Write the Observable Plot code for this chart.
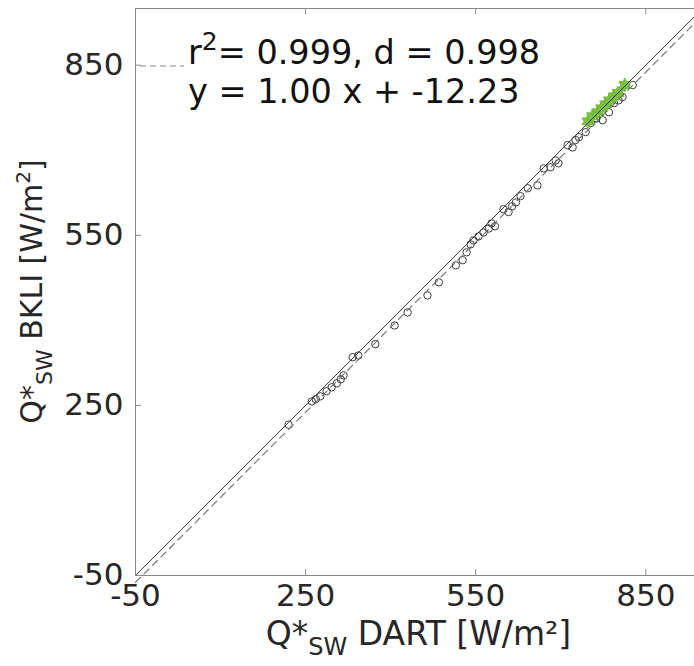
<!DOCTYPE html>
<html><head><meta charset="utf-8">
<script src="https://cdn.jsdelivr.net/npm/d3@7"></script>
<script src="https://cdn.jsdelivr.net/npm/@observablehq/plot@0.6"></script>
<style>
body{margin:0;background:#fff;}
#chart{position:relative;width:694px;height:666px;overflow:hidden;}
svg{overflow:hidden;}
</style>
</head><body><div id="chart"></div>
<script>
// ---- data ----
const dartOpen = [220,261,268,276,287,296,305,312,317,333,343,373,407,430,465,485,515,527,534,541,546,555,564,573,578,584,599,608,614,621,629,642,659,670,682,691,696,712,721,726,732,744,753,763,774,785,794,802,809,827];
const bkliOpen = [216,257,261,266,275,282,289,296,303,335,338,358,391,414,444,467,497,506,520,534,541,548,555,562,571,566,596,591,601,608,619,633,638,668,670,682,677,709,705,718,723,732,748,756,753,767,783,788,794,815];
const dartGreen = [748,756,765,772,779,786,794,801,813];
const bkliGreen = [751,760,767,774,781,788,795,801,815];
const xTicks = [-50, 250, 550, 850];
const yTicks = [-50, 250, 550, 850];
const axisDomain = [-50, 950];
const fitSlope = 1.00;
const fitIntercept = -12.23;
const statLines = ["= 0.999, d = 0.998", "y = 1.00 x + -12.23"];

// ---- tables ----
const openPts = dartOpen.map((x, i) => ({x, y: bkliOpen[i]}));
const greenPts = dartGreen.map((x, i) => ({x, y: bkliGreen[i]}));
const oneToOne = axisDomain.map(v => ({x: v, y: v}));
const fitLine = axisDomain.map(v => ({x: v, y: fitSlope * v + fitIntercept}));

const hexagram = {
  draw(ctx, size) {
    const R = Math.sqrt(size / Math.PI) * 1.35, r = R / Math.sqrt(3);
    for (let k = 0; k < 12; k++) {
      const a = -Math.PI / 2 + k * Math.PI / 6, rr = k % 2 ? r : R;
      const px = rr * Math.cos(a), py = rr * Math.sin(a);
      k ? ctx.lineTo(px, py) : ctx.moveTo(px, py);
    }
    ctx.closePath();
  }
};

const W = 694, H = 666, ML = 135, MT = 8, MB = 91;
const plotH = H - MT - MB;
const pxPerUnit = plotH / (axisDomain[1] - axisDomain[0]);
const tickLen = 6 / pxPerUnit;
const boxStyle = {stroke: "#888", strokeWidth: 1};

const plot = Plot.plot({
  width: W, height: H,
  marginLeft: ML, marginTop: MT, marginBottom: MB, marginRight: 0,
  x: {domain: axisDomain, range: [ML, ML + plotH]},
  y: {domain: axisDomain, range: [H - MB, MT]},
  style: {fontFamily: "DejaVu Sans", fontSize: "30px", color: "#262626", background: "#fff"},
  marks: [
    Plot.axisX({ticks: xTicks, tickSize: 0, tickPadding: 8, label: null, fontSize: 31, tickFormat: d => String(d)}),
    Plot.axisY({ticks: yTicks, tickSize: 0, tickPadding: 12, label: null, fontSize: 31, tickFormat: d => String(d)}),
    Plot.ruleX(xTicks, {x: d => d, y1: axisDomain[0], y2: axisDomain[0] + tickLen, ...boxStyle}),
    Plot.ruleX(xTicks, {x: d => d, y1: axisDomain[1], y2: axisDomain[1] - tickLen, ...boxStyle}),
    Plot.ruleY(yTicks, {y: d => d, x1: axisDomain[0], x2: axisDomain[0] + tickLen, ...boxStyle}),
    Plot.dot(openPts, {x: "x", y: "y", r: 3.7, stroke: "#3c3c3c", strokeWidth: 1, fill: "none"}),
    Plot.dot(greenPts, {x: "x", y: "y", r: 5, symbol: hexagram, fill: "#7cc242", stroke: "#72b83a", strokeWidth: 1}),
    Plot.line(fitLine, {x: "x", y: "y", stroke: "#6e6e6e", strokeWidth: 1.1, strokeDasharray: "7,5"}),
    Plot.line(oneToOne, {x: "x", y: "y", stroke: "#3a3a3a", strokeWidth: 1}),
    // box: bottom, top and left edges (the right edge falls outside the picture)
    Plot.ruleY([axisDomain[0], axisDomain[1]], {y: d => d, x1: axisDomain[0], x2: axisDomain[1], ...boxStyle}),
    Plot.ruleX([axisDomain[0]], {x: d => d, y1: axisDomain[0], y2: axisDomain[1], ...boxStyle})
  ]
});
document.getElementById("chart").appendChild(plot);

const svg = d3.select(plot);
const font = "DejaVu Sans";
// x label
const xl = svg.append("text").attr("x", ML + plotH / 2).attr("y", 645)
  .attr("text-anchor", "middle").attr("font-family", font).attr("font-size", 33).attr("fill", "#262626");
xl.append("tspan").text("Q*");
xl.append("tspan").attr("font-size", 24).attr("dy", 10).text("SW");
xl.append("tspan").attr("dy", -10).text(" DART [W/m²]");
// y label
const yl = svg.append("text").attr("transform", `translate(42,${MT + plotH / 2}) rotate(-90)`)
  .attr("text-anchor", "middle").attr("font-family", font).attr("font-size", 30).attr("fill", "#262626");
yl.append("tspan").text("Q*");
yl.append("tspan").attr("font-size", 22).attr("dy", 10).text("SW");
yl.append("tspan").attr("dy", -10).text(" BKLI [W/m");
yl.append("tspan").attr("font-size", 20).attr("dy", -12).text("2");
yl.append("tspan").attr("dy", 12).text("]");
// legend
svg.append("line").attr("x1", 140).attr("x2", 184).attr("y1", 66).attr("y2", 66)
  .attr("stroke", "#8a8a8a").attr("stroke-width", 1.2).attr("stroke-dasharray", "6,4");
const l1 = svg.append("text").attr("x", 188).attr("y", 64).attr("text-anchor", "start")
  .attr("font-family", font).attr("font-size", 33.5).attr("fill", "#111");
l1.append("tspan").text("r");
l1.append("tspan").attr("font-size", 25).attr("dy", -14).text("2");
l1.append("tspan").attr("dy", 14).text(statLines[0]);
svg.append("text").attr("x", 188).attr("y", 103).attr("text-anchor", "start")
  .attr("font-family", font).attr("font-size", 33.5).attr("fill", "#111").text(statLines[1]);
</script>
</body></html>
